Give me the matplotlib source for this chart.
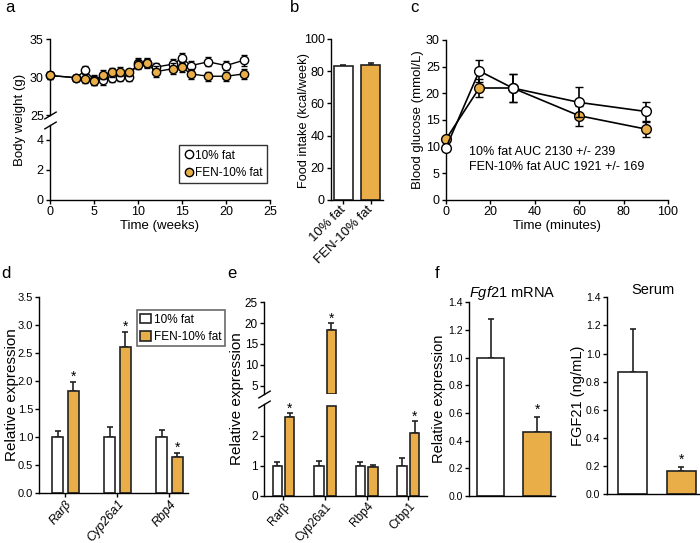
import numpy as np
import matplotlib.pyplot as plt
from matplotlib.lines import Line2D
from matplotlib.patches import Patch

plt.rcParams['font.family'] = ['Liberation Sans', 'DejaVu Sans']
plt.rcParams['mathtext.fontset'] = 'custom'
plt.rcParams['mathtext.rm'] = 'Liberation Sans'
plt.rcParams['mathtext.it'] = 'Liberation Sans:italic'
plt.rcParams['axes.linewidth'] = 1.0
plt.rcParams['xtick.major.width'] = 1.0
plt.rcParams['ytick.major.width'] = 1.0
plt.rcParams['xtick.major.size'] = 3
plt.rcParams['ytick.major.size'] = 3
plt.rcParams['xtick.labelsize'] = 9
plt.rcParams['ytick.labelsize'] = 9

ORANGE = '#E9AE48'
EDGE = '#222222'

# ---- data ----
# a: body weight
weeks = [0, 3, 4, 5, 6, 7, 8, 9, 10, 11, 12, 14, 15, 16, 18, 20, 22]
bw_ctrl = [30.2, 29.9, 30.9, 29.6, 29.6, 29.9, 30.0, 30.0, 31.9, 31.8, 31.3, 31.7, 32.5, 31.5, 32.0, 31.5, 32.2]
bw_ctrl_err = [0.5, 0.4, 0.5, 0.6, 0.6, 0.6, 0.5, 0.5, 0.6, 0.6, 0.6, 0.7, 0.7, 0.6, 0.6, 0.6, 0.7]
bw_fen = [30.2, 29.9, 29.8, 29.5, 30.3, 30.6, 30.7, 30.6, 31.6, 31.9, 30.7, 31.1, 31.3, 30.4, 30.1, 30.1, 30.4]
bw_fen_err = [0.5, 0.4, 0.6, 0.6, 0.6, 0.6, 0.6, 0.5, 0.6, 0.6, 0.7, 0.7, 0.7, 0.6, 0.6, 0.6, 0.6]

# b: food intake
groups = ['10% fat', 'FEN-10% fat']
food = [83, 84]
food_err = [0.8, 0.8]

# c: glucose tolerance
minutes = [0, 15, 30, 60, 90]
glu_ctrl = [9.8, 24.2, 21.0, 18.3, 16.6]
glu_ctrl_err = [0.6, 2.0, 2.7, 2.8, 1.7]
glu_fen = [11.4, 21.0, 21.0, 15.8, 13.3]
glu_fen_err = [0.5, 1.6, 2.7, 1.9, 1.4]

# d: gene expression
genes_d = ['Rarβ', 'Cyp26a1', 'Rbp4']
d_ctrl = [1.0, 1.0, 1.0]
d_ctrl_err = [0.11, 0.19, 0.13]
d_fen = [1.83, 2.62, 0.65]
d_fen_err = [0.15, 0.26, 0.07]

# e: gene expression
genes_e = ['Rarβ', 'Cyp26a1', 'Rbp4', 'Crbp1']
e_ctrl = [1.0, 1.0, 1.0, 1.0]
e_ctrl_err = [0.13, 0.17, 0.12, 0.27]
e_fen = [2.62, 18.3, 0.97, 2.1]
e_fen_err = [0.14, 1.8, 0.06, 0.37]
e_fen_sig = [True, True, False, True]

# f: Fgf21
fgf_mrna = [1.0, 0.46]
fgf_mrna_err = [0.28, 0.11]
fgf_serum = [0.866, 0.161]
fgf_serum_err = [0.31, 0.03]

W, H = 700, 543
fig = plt.figure(figsize=(7, 5.43), dpi=100)


def add_ax(l, t, r, b):
    return fig.add_axes([l / W, 1 - b / H, (r - l) / W, (b - t) / H])


def clean(ax, size=9):
    ax.spines['top'].set_visible(False)
    ax.spines['right'].set_visible(False)
    ax.tick_params(direction='out', pad=1.5, labelsize=size)


def ylab(x, y, text, size):
    fig.text(x / W, 1 - y / H, text, rotation=90, ha='center', va='center', fontsize=size)


def brk(ax, y):
    ax.plot([0], [y], transform=ax.transAxes, marker=[(-1, -0.6), (1, 0.6)],
            markersize=9, ls='none', color='k', mec='k', mew=1, clip_on=False)


def bars(ax, xs, vals, errs, color, width, ymax=None):
    v = np.array(vals, dtype=float)
    if ymax is not None:
        v = np.minimum(v, ymax)
    ax.bar(xs, v, width=width, color=color, edgecolor=EDGE, linewidth=1.2, zorder=2)
    ax.errorbar(xs, vals, yerr=[np.zeros(len(vals)), errs], fmt='none',
                ecolor=EDGE, elinewidth=1.2, capsize=2.5, capthick=1.2, zorder=1)


def stars(ax, xs, vals, errs, pad, sig=None):
    for i, (x, v, e) in enumerate(zip(xs, vals, errs)):
        if sig is None or sig[i]:
            ax.text(x, v + e + pad, '*', ha='center', va='center', fontsize=10)


# ---- panel a ----
a_top = add_ax(50, 39, 270, 115)
a_bot = add_ax(50, 125, 270, 200)
for ax in (a_top, a_bot):
    clean(ax)
    ax.set_xlim(0, 25)
    for series, err, fc, z in ((bw_ctrl, bw_ctrl_err, 'white', 3), (bw_fen, bw_fen_err, ORANGE, 4)):
        ax.errorbar(weeks, series, yerr=err, fmt='-o', color='k', mfc=fc, mec='k',
                    ms=6, lw=1, elinewidth=1, capsize=2.5, clip_on=False, zorder=z)
a_top.set_ylim(25, 35)
a_top.set_yticks([25, 30, 35])
a_top.spines['bottom'].set_visible(False)
a_top.set_xticks([])
a_bot.set_ylim(0, 5)
a_bot.set_yticks([0, 2, 4])
a_bot.set_xticks([0, 5, 10, 15, 20, 25])
a_bot.set_xlabel('Time (weeks)', labelpad=1, fontsize=9.5)
brk(a_top, 0)
brk(a_bot, 1)
ylab(20, 120, 'Body weight (g)', 9.5)
handles = [Line2D([], [], ls='none', marker='o', mfc='white', mec='k', ms=6),
           Line2D([], [], ls='none', marker='o', mfc=ORANGE, mec='k', ms=6)]
leg = a_bot.legend(handles, groups, loc='lower right', bbox_to_anchor=(0.985, 0.227), fontsize=8.5,
                   frameon=True, fancybox=False, edgecolor='k', borderpad=0.35,
                   handletextpad=0.05, handlelength=1, borderaxespad=0, labelspacing=0.45)
leg.get_frame().set_linewidth(1)

# ---- panel b ----
b = add_ax(331, 39, 383, 200)
clean(b)
for i, (v, e, c) in enumerate(zip(food, food_err, ['white', ORANGE])):
    bars(b, [i], [v], [e], c, 0.71)
b.set_xlim(-0.45, 1.45)
b.set_ylim(0, 100)
b.set_yticks([0, 20, 40, 60, 80, 100])
b.set_xticks([0, 1])
b.set_xticklabels(groups, rotation=45, ha='right', va='center', rotation_mode='anchor', fontsize=9.5)
b.tick_params(axis='x', pad=3)
ylab(304, 120, 'Food intake (kcal/week)', 9.2)

# ---- panel c ----
c = add_ax(446, 40, 668, 200)
clean(c)
c.errorbar(minutes, glu_fen, yerr=glu_fen_err, fmt='-o', color='k', mfc=ORANGE, mec='k',
           ms=7, lw=1.2, elinewidth=1.2, capsize=3, clip_on=False, zorder=3)
c.errorbar(minutes, glu_ctrl, yerr=glu_ctrl_err, fmt='-o', color='k', mfc='white', mec='k',
           ms=7, lw=1.2, elinewidth=1.2, capsize=3, clip_on=False, zorder=4)
c.set_xlim(0, 100)
c.set_ylim(0, 30)
c.set_xticks([0, 20, 40, 60, 80, 100])
c.set_yticks([0, 5, 10, 15, 20, 25, 30])
c.set_xlabel('Time (minutes)', labelpad=1, fontsize=9.5)
ylab(418.5, 120, 'Blood glucose (mmol/L)', 9.5)
c.text(0.105, 0.255, '10% fat AUC 2130 +/- 239\nFEN-10% fat AUC 1921 +/- 169',
       transform=c.transAxes, fontsize=9, va='center', linespacing=1.3)

# ---- panel d ----
d = add_ax(39.3, 297.3, 187.7, 493.3)
clean(d, 8)
xd = np.arange(len(genes_d))
bars(d, xd - 0.15, d_ctrl, d_ctrl_err, 'white', 0.21)
bars(d, xd + 0.15, d_fen, d_fen_err, ORANGE, 0.21)
stars(d, xd + 0.15, d_fen, d_fen_err, 0.1)
d.set_xlim(-0.5, 2.35)
d.set_ylim(0, 3.5)
d.set_yticks(np.arange(0, 3.51, 0.5))
d.set_yticklabels(['%.1f' % t for t in np.arange(0, 3.51, 0.5)])
d.set_xticks(xd)
d.set_xticklabels(genes_d, rotation=50, ha='right', va='top', rotation_mode='anchor',
                  fontstyle='italic', fontsize=9)
d.tick_params(axis='x', pad=0.5)
ylab(12, 395, 'Relative expression', 11)
lh = [Patch(fc='white', ec=EDGE, lw=1.2), Patch(fc=ORANGE, ec=EDGE, lw=1.2)]
leg = d.legend(lh, groups, loc='upper left', bbox_to_anchor=(0.656, 0.935), fontsize=8.5,
               frameon=True, fancybox=False, edgecolor='#444444', borderpad=0.3,
               handletextpad=0.25, handlelength=0.9, handleheight=0.9,
               borderaxespad=0, labelspacing=0.45)
leg.get_frame().set_linewidth(1.2)

# ---- panel e ----
e_top = add_ax(264.3, 302.3, 426.7, 394)
e_bot = add_ax(264.3, 404, 426.7, 495.7)
xe = np.arange(len(genes_e))
for ax in (e_top, e_bot):
    clean(ax, 8.5)
    ax.set_xlim(-0.46, 3.44)
e_bot.set_ylim(0, 3.05)
bars(e_bot, xe - 0.15, e_ctrl, e_ctrl_err, 'white', 0.225)
bars(e_bot, xe + 0.15, e_fen, e_fen_err, ORANGE, 0.225, ymax=3.0)
e_top.set_ylim(3, 25)
big = np.array(e_fen) > 3
e_top.bar((xe + 0.15)[big], np.array(e_fen)[big] - 3, bottom=3, width=0.225,
          color=ORANGE, edgecolor=EDGE, linewidth=1.2, zorder=2)
e_top.errorbar((xe + 0.15)[big], np.array(e_fen)[big], yerr=[[0] * big.sum(), np.array(e_fen_err)[big]],
               fmt='none', ecolor=EDGE, elinewidth=1.2, capsize=2.5, capthick=1.2, zorder=1)
for i in range(len(genes_e)):
    if e_fen_sig[i]:
        ax = e_top if e_fen[i] > 3 else e_bot
        off = 1.0 if e_fen[i] > 3 else 0.14
        ax.text(xe[i] + 0.15, e_fen[i] + e_fen_err[i] + off, '*', ha='center', va='center', fontsize=10)
e_bot.set_yticks([0, 1, 2])
e_top.set_yticks([5, 10, 15, 20, 25])
e_top.spines['bottom'].set_visible(False)
e_top.set_xticks([])
e_bot.set_xticks(xe)
e_bot.set_xticklabels(genes_e, rotation=48, ha='right', va='top', rotation_mode='anchor', fontsize=8.5)
e_bot.tick_params(axis='x', pad=0.5)
brk(e_top, 0)
brk(e_bot, 1)
ylab(237.5, 399, 'Relative expression', 11)

# ---- panel f ----
f1 = add_ax(469.3, 302.3, 555, 496)
clean(f1, 7.5)
bars(f1, [0], [fgf_mrna[0]], [fgf_mrna_err[0]], 'white', 0.59)
bars(f1, [1], [fgf_mrna[1]], [fgf_mrna_err[1]], ORANGE, 0.59)
stars(f1, [1], [fgf_mrna[1]], [fgf_mrna_err[1]], 0.05)
f1.set_xlim(-0.454, 1.38)
f1.set_ylim(0, 1.4)
f1.set_yticks(np.arange(0, 1.41, 0.2))
f1.set_yticklabels(['%.1f' % t for t in np.arange(0, 1.41, 0.2)])
f1.set_xticks([])
ylab(439, 399, 'Relative expression', 10.5)
f1.set_title(r'$\mathit{Fgf21}$ mRNA', fontsize=10.5, pad=4)

f2 = add_ax(606.7, 297.3, 699, 494)
clean(f2, 7.5)
bars(f2, [0], [fgf_serum[0]], [fgf_serum_err[0]], 'white', 0.6)
bars(f2, [1], [fgf_serum[1]], [fgf_serum_err[1]], ORANGE, 0.6)
stars(f2, [1], [fgf_serum[1]], [fgf_serum_err[1]], 0.05)
f2.set_xlim(-0.53, 1.36)
f2.set_ylim(0, 1.4)
f2.set_yticks(np.arange(0, 1.41, 0.2))
f2.set_yticklabels(['%.1f' % t for t in np.arange(0, 1.41, 0.2)])
f2.set_xticks([])
ylab(578, 396, 'FGF21 (ng/mL)', 10.5)
f2.set_title('Serum', fontsize=10.5, pad=-1)

# panel letters
for lab, x, y in (('a', 5, 12), ('b', 290, 12), ('c', 410, 12),
                  ('d', 1, 278), ('e', 227, 278), ('f', 435, 278)):
    fig.text(x / W, 1 - y / H, lab, fontsize=12, va='baseline')

fig.savefig('out.png', dpi=100)
